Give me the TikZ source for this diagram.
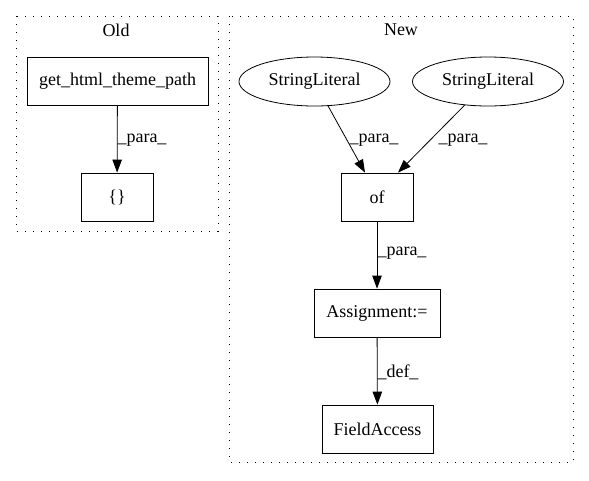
\documentclass[tikz,border=0pt]{standalone}
\usepackage{fontspec}
\setmainfont{Liberation Serif}
\usetikzlibrary{arrows.meta,shapes.geometric}

\tikzset{
  box/.style={draw,line width=0.8pt,inner sep=0pt,minimum height=48pt},
  lit/.style={draw,ellipse,line width=0.8pt,inner sep=0pt,minimum width=151pt,minimum height=49pt},
  cluster/.style={draw,line width=0.8pt,dash pattern=on 1.2pt off 6.8pt},
  edge/.style={line width=0.8pt,-{Triangle[length=13pt,width=9.5pt]}},
}

\begin{document}
\begin{tikzpicture}[x=1pt,y=1pt,yscale=-1,xscale=1,font=\fontsize{18}{21}\selectfont]
\useasboundingbox (0,0) rectangle (589,480);

%Clusters
\draw[cluster] (16,16) rectangle (218,231);
\draw[cluster] (229,16) rectangle (573,462);

% Text Node
\node (oldtitle) at (116,30) {Old};
% Text Node
\node (newtitle) at (401,30) {New};

%Old nodes
\node[box,minimum width=181pt] (gethtml) at (117.5,81) {get\_html\_theme\_path};
\node[box,minimum width=72pt] (braces) at (117,197) {\{\}};

%New nodes
\node[lit] (strlit1) at (314.5,81.5) {StringLiteral};
\node[lit] (strlit2) at (488,81.5) {StringLiteral};
\node[box,minimum width=72pt] (of) at (377,197) {of};
\node[box,minimum width=126pt] (assign) at (377,313) {Assignment:=};
\node[box,minimum width=111pt] (fieldacc) at (377.5,429) {FieldAccess};

%Edges
\draw[edge] (gethtml) -- (braces);
\draw[edge] (strlit1) -- ([xshift=-12pt]of.north);
\draw[edge] (strlit2) -- ([xshift=21pt]of.north);
\draw[edge] (of) -- (assign);
\draw[edge] (assign) -- (fieldacc);

% Text Node
\node (lbl1) at (142,140) {\_para\_};
% Text Node
\node (lbl2) at (374,140) {\_para\_};
% Text Node
\node (lbl3) at (463,140) {\_para\_};
% Text Node
\node (lbl4) at (402,253) {\_para\_};
% Text Node
\node (lbl5) at (398,372) {\_def\_};

\end{tikzpicture}
\end{document}
